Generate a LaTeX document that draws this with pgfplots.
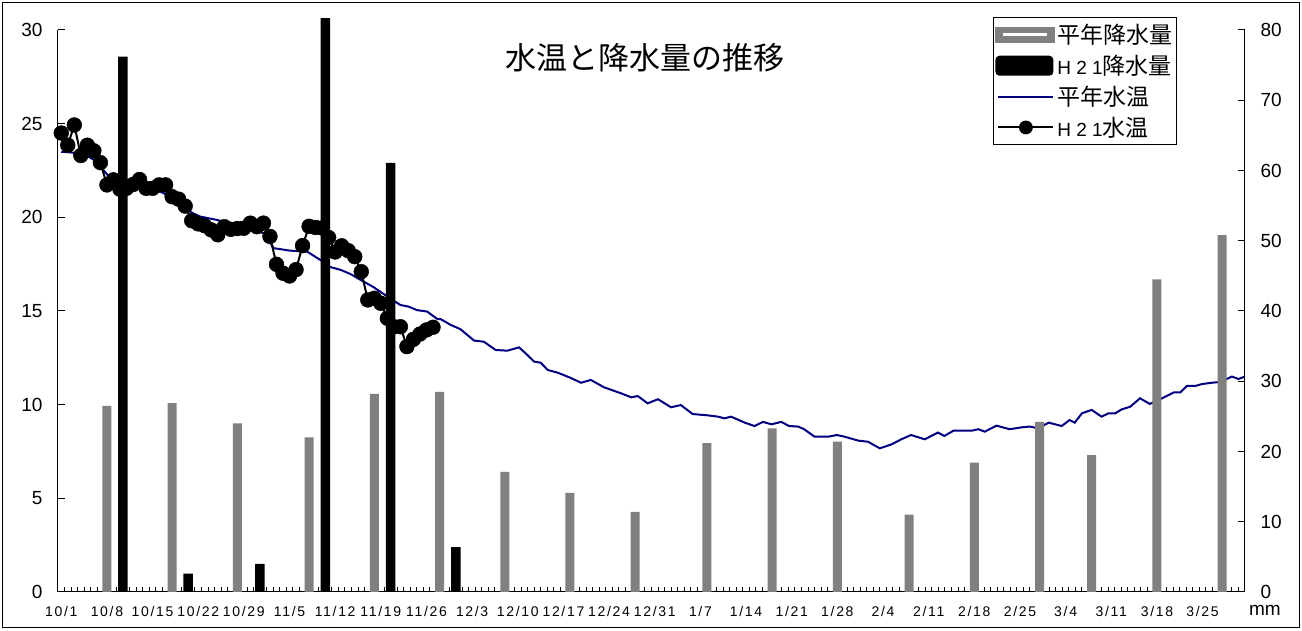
\documentclass[border=0pt]{standalone}
\usepackage{fontspec}
\setmainfont{Liberation Sans}
\newfontfamily\cjk{Noto Sans CJK JP}
\newfontfamily\xlab[LetterSpace=12]{Liberation Sans}
\usepackage{pgfplots}
\pgfplotsset{compat=1.18}
\definecolor{navyc}{RGB}{0,0,128}
\definecolor{barg}{RGB}{128,128,128}

\begin{document}
\begin{tikzpicture}
\useasboundingbox (-58pt,-39pt) rectangle (1244pt,592pt);
\draw[line width=1pt] (-55pt,-36pt) rectangle (1241pt,589pt);
% x axis line, day ticks and labels
\begin{axis}[
  scale only axis, width=1187pt, height=562pt,
  xmin=-0.5, xmax=181.5, ymin=0, ymax=30,
  axis x line*=bottom, axis y line=none,
  axis line style={line width=1pt},
  xtick={0,7,...,175},
  xticklabels={10/1,10/8,10/15,10/22,10/29,11/5,11/12,11/19,11/26,12/3,12/10,12/17,12/24,12/31,1/7,1/14,1/21,1/28,2/4,2/11,2/18,2/25,3/4,3/11,3/18,3/25},
  major tick length=0pt,
  minor xtick={-0.5,0.5,...,181.5},
  minor tick length=5pt,
  tick align=inside,
  minor tick style={black, line width=1pt},
  xticklabel shift=11pt,
  xticklabel style={font=\xlab\fontsize{14}{14}\selectfont},
]
\end{axis}
% temperatures
\begin{axis}[
  scale only axis, width=1187pt, height=562pt,
  xmin=-0.5, xmax=181.5, ymin=0, ymax=30,
  axis y line*=left, axis x line=none,
  axis line style={line width=1pt},
  tick align=inside,
  major tick length=0pt,
  minor ytick={0,5,...,30},
  minor tick length=7pt,
  minor tick style={black, line width=1pt},
  ytick={0,5,...,30},
  /pgf/number format/assume math mode=true,
  yticklabel style={font=\fontsize{19}{19}\selectfont, xshift=-12pt},
]
\addplot[navyc, line width=2pt, mark=none] coordinates {
(0,23.5) (1.3,23.47) (2.9,23.4) (4.4,23.2) (5.5,22.95) (6.4,22.55) (7.5,22.1) (8.5,21.95)
(9.8,21.8) (12.1,21.6) (13.5,21.5) (15.2,21.37) (16.2,21.2) (17.2,20.93) (18.3,20.65) (19.3,20.4)
(20.3,20.2) (21.3,20.04) (23.9,19.86) (26.4,19.6) (29.4,19.42) (31.0,19.15) (32.6,18.35) (33.6,18.3)
(35.1,18.22) (37.7,18.17) (39.7,17.73) (41.3,17.34) (42.8,17.2) (44.3,16.98) (45.9,16.66) (47.9,16.27)
(50.0,15.77) (52.0,15.32) (53.3,15.23) (54.5,15.05) (56.1,14.97) (57.7,14.56) (58.2,14.56) (59.7,14.26)
(61.2,14.03) (63.3,13.42) (64.8,13.36) (66.6,12.92) (68.4,12.88) (70.2,13.06) (71.2,12.74) (72.5,12.3)
(73.5,12.24) (74.6,11.85) (76.1,11.71) (77.9,11.46) (79.7,11.17) (81.2,11.32) (83.2,10.93) (85.8,10.61)
(87.4,10.39) (88.4,10.46) (89.9,10.07) (91.5,10.29) (93.5,9.86) (95.0,9.98) (96.8,9.5) (99.1,9.43)
(100.7,9.36) (101.7,9.27) (102.7,9.36) (104.8,9.04) (106.3,8.86) (107.6,9.08) (108.9,8.95) (110.4,9.08)
(111.6,8.86) (113.0,8.83) (113.9,8.69) (115.5,8.29) (117.6,8.29) (118.9,8.38) (120.1,8.29) (122.2,8.08)
(123.7,8.02) (125.5,7.67) (127.3,7.88) (128.8,8.15) (130.3,8.38) (132.4,8.15) (134.4,8.51) (135.4,8.33)
(136.8,8.61) (139.6,8.61) (140.6,8.69) (141.6,8.56) (143.4,8.88) (145.4,8.69) (147.3,8.79) (148.5,8.83)
(149.8,8.74) (151.4,9.04) (153.4,8.86) (154.6,9.18) (155.4,9.04) (156.5,9.54) (158.0,9.72) (159.5,9.36)
(160.6,9.54) (161.6,9.54) (162.6,9.75) (163.9,9.89) (165.4,10.34) (166.9,10.04) (168.8,10.34) (170.6,10.66)
(171.6,10.66) (172.6,11.0) (173.9,11.0) (174.9,11.1) (176.4,11.17) (177.7,11.21) (179.5,11.5) (180.5,11.37)
(181.5,11.5)
};
\addplot[black, line width=2pt, mark=*, mark size=7.4pt, mark options={fill=black, line width=0.5pt}] coordinates {
(0,24.5) (1,23.85) (2,24.93) (3,23.3) (4,23.85) (5,23.55) (6,22.92) (7,21.73) (8,22.0) (9,21.5)
(10,21.55) (11,21.75) (12,22.02) (13,21.55) (14,21.55) (15,21.73) (16,21.73) (17,21.1) (18,20.97) (19,20.6)
(20,19.82) (21,19.65) (22,19.55) (23,19.33) (24,19.07) (25,19.5) (26,19.36) (27,19.4) (28,19.42) (29,19.69)
(30,19.5) (31,19.69) (32,18.98) (33,17.49) (34,17.02) (35,16.87) (36,17.21) (37,18.49) (38,19.52) (39,19.46)
(40,19.43) (41,18.92) (42,18.15) (43,18.48) (44,18.22) (45,17.9) (46,17.1) (47,15.59) (48,15.68) (49,15.41)
(50,14.61) (51,14.16) (52,14.16) (53,13.1) (54,13.49) (55,13.77) (56,13.99) (57,14.13)
};
\node[font=\cjk\fontsize{31}{31}\selectfont] at (rel axis cs:0.4945,0.95) {水温と降水量の推移};
\end{axis}
% precipitation
\begin{axis}[
  scale only axis, width=1187pt, height=562pt,
  xmin=-0.5, xmax=181.5, ymin=0, ymax=80,
  axis y line*=right, axis x line=none,
  axis line style={line width=1pt},
  tick align=inside,
  major tick length=0pt,
  minor ytick={0,10,...,80},
  minor tick length=7pt,
  minor tick style={black, line width=1pt},
  ytick={0,10,...,80},
  /pgf/number format/assume math mode=true,
  yticklabel style={font=\fontsize{19}{19}\selectfont, xshift=12pt},
  clip=false,
  legend style={at={(0.7877,1.0231)}, anchor=north west, draw=black, line width=0.8pt,
    font=\cjk\fontsize{23}{25}\selectfont, inner xsep=2pt, inner ysep=5pt, row sep=6pt,
    cells={anchor=west, inner xsep=4pt}},
]
\addplot[ybar, bar width=9pt, bar shift=0pt, fill=barg, draw=none,
  legend image code/.code={\fill[barg] (0pt,-8pt) rectangle (60pt,8pt); \fill[white] (8pt,-1.5pt) rectangle (52pt,1.5pt);}]
  coordinates {(7,26.5) (17,26.9) (27,24.0) (38,22.0) (48,28.2) (58,28.5) (68,17.1) (78,14.1) (88,11.4)
  (99,21.2) (109,23.3) (119,21.4) (130,11.0) (140,18.4) (150,24.2) (158,19.5) (168,44.5) (178,50.8)};
\addlegendentry{平年降水量}
\addplot[ybar, bar width=9.5pt, bar shift=0pt, fill=black, draw=none,
  legend image code/.code={\fill[black, rounded corners=4pt] (0pt,-10pt) rectangle (58pt,10pt);}]
  coordinates {(9.45,76.2) (19.45,2.6) (30.45,4.0) (40.5,81.7) (50.5,61.1) (60.5,6.4)};
\addlegendentry{{\rmfamily\fontsize{19}{19}\selectfont H 2 1}降水量}
\addlegendimage{legend image code/.code={\draw[navyc, line width=2pt] (3pt,0pt) -- (58pt,0pt);}}
\addlegendentry{平年水温}
\addlegendimage{legend image code/.code={\draw[black, line width=2pt] (3pt,0pt) -- (58pt,0pt); \fill[black] (30.5pt,0pt) circle (6.5pt);}}
\addlegendentry{{\rmfamily\fontsize{19}{19}\selectfont H 2 1}水温}
\node[font=\fontsize{19}{19}\selectfont] at (rel axis cs:1,0) [xshift=20pt, yshift=-18pt] {mm};
\end{axis}
\end{tikzpicture}
\end{document}
